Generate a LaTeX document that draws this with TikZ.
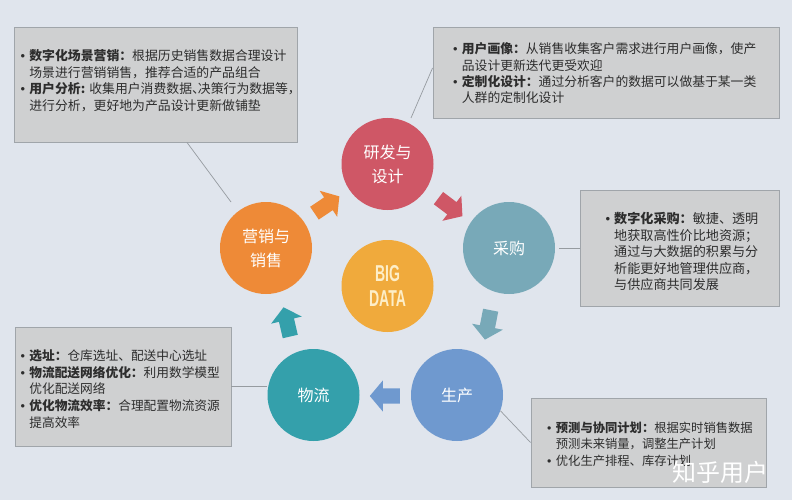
\documentclass[tikz,border=0pt]{standalone}
\usepackage{fontspec}
\usetikzlibrary{shapes.arrows}
\setmainfont{Noto Sans CJK SC}
\newfontfamily\bigdatafont[FakeStretch=0.61]{Liberation Sans}
\newfontfamily\bulletfont{Liberation Sans}
\definecolor{bgcolor}{RGB}{224,229,237}
\definecolor{boxfill}{RGB}{207,208,209}
\definecolor{boxline}{RGB}{160,165,170}
\definecolor{linkline}{RGB}{150,155,160}
\definecolor{textcolor}{RGB}{45,45,45}
\definecolor{designcolor}{RGB}{207,87,102}
\definecolor{purchasecolor}{RGB}{120,169,184}
\definecolor{productcolor}{RGB}{111,153,207}
\definecolor{logisticcolor}{RGB}{52,160,171}
\definecolor{marketcolor}{RGB}{238,138,55}
\definecolor{datacolor}{RGB}{240,170,60}
\newcommand{\bul}{\makebox[8.7pt][l]{\bulletfont •}}
\newcommand{\hang}{\hspace*{8.7pt}}
\tikzset{
  stage/.style={circle,minimum size=92pt,inner sep=0pt,align=center,text=white,
    font=\fontsize{16}{24}\selectfont},
  infobox/.style={draw=boxline,fill=boxfill,line width=0.9pt,inner sep=0pt},
  infotext/.style={anchor=north west,inner sep=0pt,align=left,text=textcolor},
  blockarrow/.style={single arrow,anchor=tail,inner xsep=0pt,inner ysep=7.5pt,minimum width=31pt,minimum height=30pt,
    single arrow head extend=8pt,single arrow tip angle=100},
  link/.style={draw=linkline,line width=0.7pt}
}

\begin{document}
\begin{tikzpicture}[x=1pt,y=-1pt]
  \useasboundingbox (0,0) rectangle (792,500);
  \fill[bgcolor] (0,0) rectangle (792,500);

  \node[stage,fill=designcolor] (design) at (387.5,164) {研发与\\设计};
  \node[stage,fill=purchasecolor] (purchase) at (509,248) {采购};
  \node[stage,fill=productcolor] (product) at (457,395) {生产};
  \node[stage,fill=logisticcolor] (logistic) at (313.5,395) {物流};
  \node[stage,fill=marketcolor] (market) at (266,248) {营销与\\销售};
  \node[stage,fill=datacolor,text={rgb,255:red,253;green,238;blue,200},
    font=\bigdatafont\bfseries\fontsize{23}{25.5}\selectfont] (bigdata) at (387.5,286) {BIG\\DATA};

  \node[blockarrow,fill=marketcolor,rotate=34] (arrowmarket) at (314.3,213.3) {};
  \node[blockarrow,fill=designcolor,rotate=-37] (arrowdesign) at (438.3,198) {};
  \node[blockarrow,fill=purchasecolor,rotate=-101] (arrowpurchase) at (490.7,310) {};
  \node[blockarrow,fill=productcolor,rotate=180] (arrowproduct) at (400,396) {};
  \node[blockarrow,fill=logisticcolor,rotate=103] (arrowlogistic) at (290.3,336.7) {};

  \node[infobox,minimum width=283pt,minimum height=115pt] (boxmarket) at (155.5,84.5) {};
  \node[infotext,font=\fontsize{12.85}{16.6}\selectfont] (textmarket) at (20.5,49.5) {\bul\textbf{数字化场景营销：}根据历史销售数据合理设计\\
    \hang 场景进行营销销售，推荐合适的产品组合\\
    \bul\textbf{用户分析:}\hspace{4pt}收集用户消费数据、\hspace{-7pt}决策行为数据等，\\
    \hang 进行分析，更好地为产品设计更新做铺垫};

  \node[infobox,minimum width=346pt,minimum height=91pt] (boxdesign) at (606,72.5) {};
  \node[infotext,font=\fontsize{12.8}{16.4}\selectfont] (textdesign) at (453,42.5) {\bul\textbf{用户画像：}从销售收集客户需求进行用户画像，使产\\
    \hang 品设计更新迭代更受欢迎\\
    \bul\textbf{定制化设计：}通过分析客户的数据可以做基于某一类\\
    \hang 人群的定制化设计};

  \node[infobox,minimum width=199pt,minimum height=116pt] (boxpurchase) at (679.5,248) {};
  \node[infotext,font=\fontsize{13.1}{16.5}\selectfont] (textpurchase) at (605.3,212) {\bul\textbf{数字化采购：}敏捷、透明\\
    \hang 地获取高性价比地资源；\\
    \hang 通过与大数据的积累与分\\
    \hang 析能更好地管理供应商，\\
    \hang 与供应商共同发展};

  \node[infobox,minimum width=216pt,minimum height=119pt] (boxlogistic) at (123,386.5) {};
  \node[infotext,font=\fontsize{12.7}{16.7}\selectfont] (textlogistic) at (20.5,349.5) {\bul\textbf{选址：}仓库选址、配送中心选址\\
    \bul\textbf{物流配送网络优化：}利用数学模型\\
    \hang 优化配送网络\\
    \bul\textbf{优化物流效率：}合理配置物流资源\\
    \hang 提高效率};

  \node[infobox,minimum width=235pt,minimum height=89pt] (boxproduct) at (648.5,442.5) {};
  \node[infotext,font=\fontsize{12.3}{16.7}\selectfont] (textproduct) at (547,421.5) {\bul\textbf{预测与协同计划：}根据实时销售数据\\
    \hang 预测未来销量，调整生产计划\\
    \bul 优化生产排程、库存计划};

  \coordinate (endmarket) at (231,202);
  \coordinate (enddesign) at (411,118);
  \coordinate (endpurchase) at (559,248);
  \draw[link] ([xshift=31.5pt]boxmarket.south) -- (endmarket);
  \draw[link] ([yshift=4.5pt]boxdesign.west) -- (enddesign);
  \draw[link] (boxpurchase.west) -- (endpurchase);
  \draw[link] (boxlogistic.east) -- (logistic.west |- boxlogistic.east);
  \draw[link] (boxproduct.west) -- (product.-20);

  \node[text=white,font=\fontsize{24}{24}\selectfont,inner sep=0pt] (watermark) at (720.5,472) {知乎用户};
\end{tikzpicture}
\end{document}
